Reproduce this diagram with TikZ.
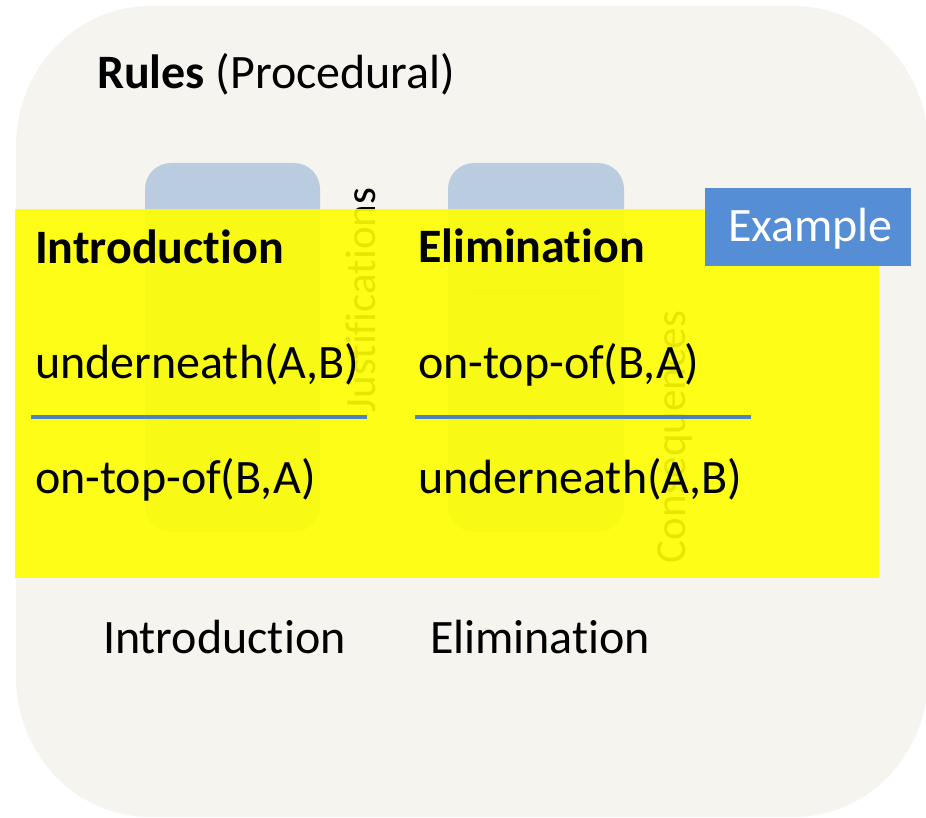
\documentclass[tikz,border=0pt]{standalone}
\usepackage{fontspec}
\setmainfont{Carlito}[Ligatures=NoCommon]
\begin{document}
\begin{tikzpicture}[x=1pt,y=-1pt,
  txt/.style={anchor=base west,inner sep=0pt,outer sep=0pt,font=\fontsize{48}{58}\selectfont},
  rottxt/.style={anchor=base west,inner sep=0pt,outer sep=0pt,rotate=90,font=\fontsize{43}{52}\selectfont},
  rulebar/.style={draw=ruleblue,line width=3.2pt},
  panel/.style={fill=panelblue,rounded corners=26pt},
  faintmark/.style={draw=gray!60,line width=3pt}
]
\definecolor{bgbeige}{RGB}{245,244,239}
\definecolor{panelblue}{RGB}{185,204,224}
\definecolor{ruleblue}{RGB}{79,129,189}
\definecolor{exblue}{RGB}{85,142,213}
\definecolor{hlyellow}{RGB}{255,255,0}

\useasboundingbox (0,0) rectangle (926,818);
\begin{scope}
\clip (0,0) rectangle (926,818);
% background card with soft corners
\fill[bgbeige] (16,146) arc[start angle=180,end angle=270,x radius=134,y radius=140]
  -- (794,6) arc[start angle=270,end angle=360,x radius=134,y radius=140]
  -- (928,677) arc[start angle=0,end angle=90,x radius=134,y radius=140]
  -- (150,817) arc[start angle=90,end angle=180,x radius=134,y radius=140] -- cycle;
\end{scope}

% two rule panels
\fill[panel] (145,163) rectangle (320,532);
\fill[panel] (448,163) rectangle (624,532);
% small marks inside the panels
\fill[gray!60] (224,310) circle (2.2pt);
\draw[faintmark] (168,422) -- (296,422);
\draw[faintmark] (472,293) -- (600,293);
\fill[gray!60] (535,420) circle (2.2pt);
\fill[gray!60] (535,467) circle (2.2pt);

% side labels of the panels
\node[rottxt] (just) at (375,412) {Justifications};
\node[rottxt] (cons) at (685,563) {Consequences};

% highlighted example area
\fill[hlyellow,opacity=0.9] (15,209) rectangle (879,578);

% title
\node[txt] (title) at (97,89) {\textbf{Rules} (Procedural)};

% introduction rule
\node[txt,font=\fontsize{48}{58}\selectfont\bfseries] (introhead) at (35,264) {Introduction};
\node[txt] (intropre) at (35,378) {underneath(A,B)};
\draw[rulebar] (31,417) -- (367,417);
\node[txt] (introcon) at (35,493) {on-top-of(B,A)};

% elimination rule
\node[txt,font=\fontsize{48}{58}\selectfont\bfseries] (elimhead) at (418,263) {Elimination};
\node[txt] (elimpre) at (418,378) {on-top-of(B,A)};
\draw[rulebar] (415,417) -- (751,417);
\node[txt] (elimcon) at (418,493) {underneath(A,B)};

% example tag
\fill[exblue] (705,188) rectangle (911,266);
\node[txt,text=white] (extag) at (728,242) {Example};

% panel captions
\node[txt] (introcap) at (103,653) {Introduction};
\node[txt] (elimcap) at (430,653) {Elimination};
\end{tikzpicture}
\end{document}
